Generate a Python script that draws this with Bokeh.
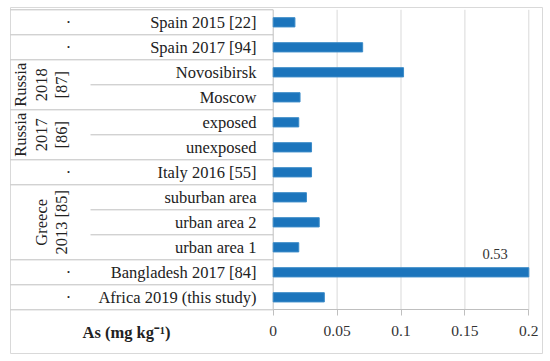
import numpy as np
from bokeh.plotting import figure
from bokeh.models import Range1d, LinearAxis, FixedTicker, NumeralTickFormatter
from bokeh.core.properties import value
from bokeh.embed import file_html
from bokeh.resources import INLINE

# ---------------- data ----------------
categories = ["Spain 2015 [22]", "Spain 2017 [94]", "Novosibirsk", "Moscow",
              "exposed", "unexposed", "Italy 2016 [55]", "suburban area",
              "urban area 2", "urban area 1", "Bangladesh 2017 [84]",
              "Africa 2019 (this study)"]
as_values = [0.017, 0.070, 0.102, 0.021, 0.020, 0.030, 0.030, 0.026,
             0.036, 0.020, 0.53, 0.040]
group_labels = ["·", "·", "Russia\n2018\n[87]", "Russia\n2017\n[86]", "·",
                "Greece\n2013 [85]", "·", "·"]
group_sizes = [1, 1, 2, 2, 1, 3, 1, 1]
x_ticks = [0, 0.05, 0.1, 0.15, 0.2]
x_max = 0.2
axis_title = "As (mg kg⁻¹)"

# ---------------- layout ----------------
W, H = 550, 361
ROW_TOP = 9.3      # px from top of canvas to table top
ROW_H = 25.0       # px per row
X0 = 272.7         # px where value 0 sits
SCALE = 1278.0     # px per unit of value
FONT = "Liberation Serif"

def u(py):  # canvas px (from top) -> row units
    return (py - ROW_TOP) / ROW_H

n = len(categories)
p = figure(width=W, height=H, output_backend="svg", toolbar_location=None,
           x_range=Range1d(0, W), y_range=Range1d(start=u(H), end=u(0)),
           x_axis_type=None, y_axis_type=None, min_border=0,
           outline_line_color=None, background_fill_color="white",
           border_fill_color="white")
p.extra_x_ranges = {"val": Range1d(-X0 / SCALE, (W - X0) / SCALE)}

# outer box
p.quad(left=[10], right=[542], top=[u(7)], bottom=[u(353)],
       fill_color=None, line_color="#d9d9d9", line_width=1)

# table separators
bounds = np.concatenate([[0], np.cumsum(group_sizes)])
p.segment(x0=10, x1=X0, y0=bounds, y1=bounds, line_color="#bfbfbf", line_width=1)
inner = [r for r in range(1, n) if r not in set(bounds)]
p.segment(x0=90, x1=X0, y0=inner, y1=inner, line_color="#bfbfbf", line_width=1)

# grid lines and value-axis line
p.segment(x0=x_ticks[1:], x1=x_ticks[1:], y0=0, y1=n, x_range_name="val",
          line_color="#d9d9d9", line_width=1)
p.segment(x0=[0], x1=[0], y0=[0], y1=[n], x_range_name="val",
          line_color="#bfbfbf", line_width=1)

# bars
rows = np.arange(n) + 0.5
shown = np.minimum(as_values, x_max)
p.hbar(y=rows, left=0, right=shown, height=0.37, x_range_name="val",
       fill_color="#1c75bc", line_color="#3b8bc8", line_width=1)

# data label for clipped bar
big = int(np.argmax(as_values))
p.text(x=[x_max], y=[big - 0.23], text=[f"{as_values[big]:.2f}"], x_range_name="val",
       x_offset=-21, text_align="right", text_baseline="middle",
       text_font=value(FONT), text_font_size="14.5px", text_color="#333333")

# category labels
p.text(x=256, y=rows, text=categories, text_align="right", text_baseline="middle",
       text_font=value(FONT), text_font_size="16.5px", text_color="#222222")

# group labels
centers = (bounds[:-1] + bounds[1:]) / 2
dots_y = [c for c, g, s in zip(centers, group_labels, group_sizes) if s == 1]
dots_t = [g for c, g, s in zip(centers, group_labels, group_sizes) if s == 1]
p.text(x=68, y=dots_y, text=dots_t, text_align="center", text_baseline="middle",
       text_font=value(FONT), text_font_size="16.5px", text_color="#222222")
grp_y = [c for c, g, s in zip(centers, group_labels, group_sizes) if s > 1]
grp_t = [g for c, g, s in zip(centers, group_labels, group_sizes) if s > 1]
p.text(x=71, y=grp_y, text=grp_t, angle=np.pi / 2, text_align="center",
       text_baseline="bottom", text_line_height=1.08,
       text_font=value(FONT), text_font_size="16.5px", text_color="#222222")

# axis title
p.text(x=[126], y=[u(332)], text=[axis_title], text_align="center",
       text_baseline="middle", text_font=value(FONT), text_font_size="16.5px",
       text_font_style="bold", text_color="#222222")

# value axis
ax = LinearAxis(x_range_name="val", ticker=FixedTicker(ticks=x_ticks),
                formatter=NumeralTickFormatter(format="0.[00]"),
                fixed_location=n, bounds=(0, x_max))
ax.axis_line_color = "#bfbfbf"
ax.major_tick_line_color = "#bfbfbf"
ax.major_tick_out = 6
ax.major_tick_in = 0
ax.minor_tick_out = 0
ax.minor_tick_in = 0
ax.major_label_standoff = 10
ax.major_label_text_font = FONT
ax.major_label_text_font_size = "15.5px"
ax.major_label_text_color = "#333333"
p.add_layout(ax, "below")

open("out.html", "w").write(file_html(p, INLINE))
